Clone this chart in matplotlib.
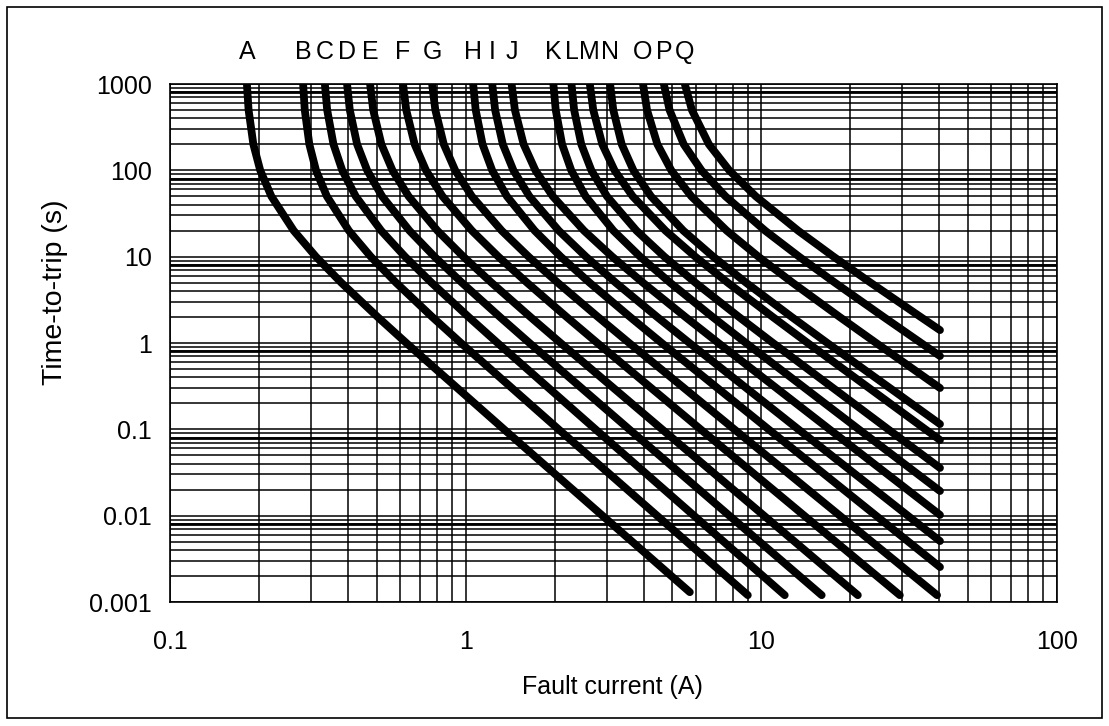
import matplotlib
matplotlib.use("Agg")
import matplotlib.pyplot as plt
from matplotlib.patches import Rectangle
from matplotlib.ticker import LogLocator, NullFormatter, FixedLocator, FixedFormatter
import matplotlib.transforms as mtransforms

# ---------------- data ----------------
curve_labels = ['A', 'B', 'C', 'D', 'E', 'F', 'G', 'H', 'I', 'J', 'K', 'L', 'M', 'N', 'O', 'P', 'Q']

# shared time grid (s); each curve lists the current (A) at the first len(...) of these times
time_s = [1000, 500, 200, 100, 50, 20, 10, 5, 2, 1, 0.1, 0.01]

current_A = [0.182, 0.1844, 0.1914, 0.2019, 0.2202, 0.2621, 0.3115, 0.3796, 0.504, 0.630, 1.348, 2.902]
current_B = [0.282, 0.2856, 0.2960, 0.3117, 0.3393, 0.4027, 0.4777, 0.5813, 0.7712, 0.9641, 2.062, 4.439]
current_C = [0.334, 0.3401, 0.3572, 0.3824, 0.4248, 0.5179, 0.6237, 0.7664, 1.0235, 1.2825, 2.749, 5.919]
current_D = [0.397, 0.4056, 0.4294, 0.4643, 0.5217, 0.6456, 0.7845, 0.9708, 1.3062, 1.6442, 3.574, 7.795]
current_E = [0.475, 0.4867, 0.5189, 0.5654, 0.6412, 0.8026, 0.9824, 1.2229, 1.6565, 2.0948, 4.616, 10.21]
current_F = [0.614, 0.6295, 0.6722, 0.7340, 0.8349, 1.0499, 1.2901, 1.6125, 2.1961, 2.789, 6.232, 13.97]
current_G = [0.770, 0.7895, 0.8434, 0.9216, 1.0496, 1.3239, 1.6320, 2.0473, 2.8031, 3.574, 8.102, 18.43]
current_H = [1.060, 1.0812, 1.1406, 1.2291, 1.3788, 1.7117, 2.0967, 2.6251, 3.600, 4.604, 10.578, 24.43]
current_I = [1.230, 1.2578, 1.3356, 1.4504, 1.6426, 2.0654, 2.5510, 3.2160, 4.4443, 5.714, 13.34, 31.29]
current_J = [1.430, 1.4673, 1.5705, 1.7213, 1.9707, 2.5129, 3.1312, 3.9761, 5.539, 7.160, 17.00]
current_K = [1.980, 2.0164, 2.1195, 2.2755, 2.5446, 3.1601, 3.8911, 4.9151, 6.845, 8.871, 21.36]
current_L = [2.280, 2.3273, 2.4610, 2.6616, 3.0048, 3.7821, 4.6993, 5.981, 8.403, 10.953, 26.86]
current_M = [2.630, 2.7008, 2.8980, 3.1879, 3.6722, 4.7407, 5.979, 7.697, 10.934, 14.351, 35.88]
current_N = [3.080, 3.1567, 3.3720, 3.6921, 4.2338, 5.448, 6.875, 8.874, 12.674, 16.717]
current_O = [3.980, 4.1052, 4.4520, 4.958, 5.797, 7.639, 9.774, 12.752, 18.414, 24.46]
current_P = [4.680, 4.8925, 5.4653, 6.2717, 7.563, 10.302, 13.419, 17.732, 25.93]
current_Q = [5.510, 5.822, 6.648, 7.786, 9.576, 13.320, 17.553, 23.416, 34.59]

# last point of each curve (A, s)
end_current = [5.73, 9.0, 12.0, 16.0, 21.2, 29.4, 39.3, 40.2, 40.2, 40.2, 40.2, 40.2, 40.2, 40.2, 40.2, 40.2, 40.2]
end_time = [0.0013, 0.0012, 0.0012, 0.0012, 0.0012, 0.0012, 0.0012, 0.00254, 0.00508, 0.0102,
            0.0193, 0.0357, 0.0752, 0.115, 0.301, 0.706, 1.41]

x_ticks = [0.1, 1, 10, 100]
x_tick_labels = ['0.1', '1', '10', '100']
y_ticks = [0.001, 0.01, 0.1, 1, 10, 100, 1000]
y_tick_labels = ['0.001', '0.01', '0.1', '1', '10', '100', '1000']
# horizontal grid lines that appear heavier in the reference
heavy_y_lines = [800, 80, 8, 0.8, 0.08, 0.008]

currents = [current_A, current_B, current_C, current_D, current_E, current_F, current_G, current_H,
            current_I, current_J, current_K, current_L, current_M, current_N, current_O, current_P, current_Q]

# ---------------- figure ----------------
W, H = 1109, 726
fig = plt.figure(figsize=(W / 100, H / 100), dpi=100)
fig.patch.set_facecolor('white')

ax_l, ax_r, ax_t, ax_b = 170, 1057, 84, 602
ax = fig.add_axes([ax_l / W, 1 - ax_b / H, (ax_r - ax_l) / W, (ax_b - ax_t) / H])

ax.set_xscale('log')
ax.set_yscale('log')
ax.set_xlim(0.1, 100)
ax.set_ylim(0.001, 1000)

font = ['Liberation Sans', 'DejaVu Sans']
fs = 18

ax.xaxis.set_major_locator(FixedLocator(x_ticks))
ax.xaxis.set_major_formatter(FixedFormatter(x_tick_labels))
ax.yaxis.set_major_locator(FixedLocator(y_ticks))
ax.yaxis.set_major_formatter(FixedFormatter(y_tick_labels))
ax.xaxis.set_minor_locator(LogLocator(base=10, subs=range(2, 10), numticks=20))
ax.yaxis.set_minor_locator(LogLocator(base=10, subs=range(2, 10), numticks=20))
ax.xaxis.set_minor_formatter(NullFormatter())
ax.yaxis.set_minor_formatter(NullFormatter())

ax.tick_params(which='both', length=0)
ax.tick_params(axis='x', pad=20)
ax.tick_params(axis='y', pad=13)
for lab in ax.get_xticklabels() + ax.get_yticklabels():
    lab.set_family(font)
    lab.set_fontsize(fs)

ax.grid(which='both', color='black', linewidth=1.1)
ax.set_axisbelow(True)
for yv in heavy_y_lines:
    ax.axhline(yv, color='black', linewidth=2.0, zorder=1)
for sp in ax.spines.values():
    sp.set_color('black')
    sp.set_linewidth(1.2)

for lab, cur, ie, te in zip(curve_labels, currents, end_current, end_time):
    xs = list(cur) + [ie]
    ys = list(time_s[:len(cur)]) + [te]
    ax.plot(xs, ys, color='black', linewidth=5.6, solid_capstyle='round',
            solid_joinstyle='round', zorder=3, clip_on=True)

trans = mtransforms.blended_transform_factory(ax.transData, ax.transAxes)
label_y = (ax_b - 52) / (ax_b - ax_t)
for lab, cur in zip(curve_labels, currents):
    ax.text(cur[0], label_y, lab, transform=trans,
            ha='center', va='center', fontsize=fs, family=font)

ax.set_xlabel('Fault current (A)', fontsize=18, family=font)
ax.set_ylabel('Time-to-trip (s)', fontsize=20.5, family=font)
ax.xaxis.set_label_coords((612 - ax_l) / (ax_r - ax_l), (ax_b - 687) / (ax_b - ax_t))
ax.yaxis.set_label_coords((55 - ax_l) / (ax_r - ax_l), (ax_b - 292) / (ax_b - ax_t))
ax.xaxis.label.set_va('center')
ax.yaxis.label.set_va('center')

fig.patches.append(Rectangle((7 / W, 1 - 718 / H), (1102 - 7) / W, (718 - 7) / H,
                             transform=fig.transFigure, fill=False, edgecolor='black',
                             linewidth=1.2))

fig.savefig('out.png', dpi=100, facecolor='white')
